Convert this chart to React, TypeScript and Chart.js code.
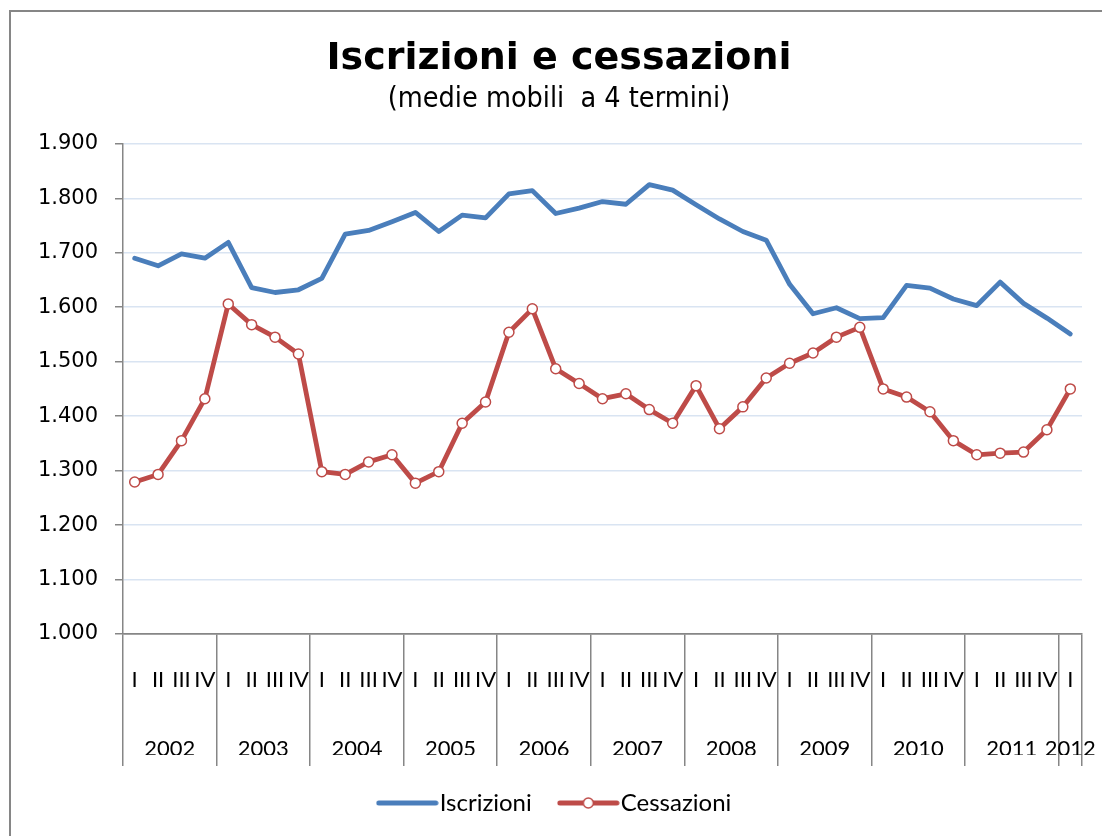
import React, { useEffect, useRef } from 'react';
import { Chart, registerables } from 'chart.js';

Chart.register(...registerables);

// ---- data ----
const years = ['2002', '2003', '2004', '2005', '2006', '2007', '2008', '2009', '2010', '2011', '2012'];
const quartersPerYear = [4, 4, 4, 4, 4, 4, 4, 4, 4, 4, 1];
const quarterNames = ['I', 'II', 'III', 'IV'];

const iscrizioni = [
  1690, 1676, 1698, 1690, 1719, 1636, 1627, 1632, 1653, 1734, 1741, 1757, 1774, 1739, 1769, 1764,
  1808, 1814, 1772, 1782, 1794, 1789, 1825, 1815, 1788, 1762, 1739, 1723, 1642, 1588, 1599, 1579,
  1581, 1640, 1635, 1615, 1603, 1646, 1607, 1580, 1551,
];
const cessazioni = [
  1279, 1293, 1355, 1432, 1606, 1568, 1545, 1514, 1298, 1293, 1316, 1329, 1277, 1298, 1387, 1426,
  1554, 1597, 1487, 1460, 1432, 1441, 1412, 1387, 1456, 1377, 1417, 1470, 1497, 1516, 1545, 1563,
  1450, 1435, 1408, 1355, 1329, 1332, 1334, 1375, 1450,
];

const yMin = 1000;
const yMax = 1900;
const yStep = 100;

const titleText = 'Iscrizioni e cessazioni';
const subtitleText = '(medie mobili  a 4 termini)';
const seriesNames = ['Iscrizioni', 'Cessazioni'];

// ---- derived tables ----
const quarterLabels: string[] = [];
const yearCenters: number[] = [];
quartersPerYear.forEach((n) => {
  const start = quarterLabels.length;
  for (let q = 0; q < n; q++) quarterLabels.push(quarterNames[q]);
  yearCenters.push(start + (n - 1) / 2);
});

const GRAY = '#868686';
const GRID = '#d9e4f2';
const BLUE = '#4a7ebb';
const RED = '#be4b48';
const LABEL_FONT = 'Lato, "Open Sans", sans-serif';

const fmtThousands = (v: number) => {
  const s = String(Math.round(v));
  return s.length > 3 ? s.slice(0, -3) + '.' + s.slice(-3) : s;
};

function makeLegendImg(color: string, marker: boolean) {
  const c = document.createElement('canvas');
  c.width = 63;
  c.height = 14;
  const g = c.getContext('2d')!;
  g.strokeStyle = color;
  g.lineWidth = 5;
  g.lineCap = 'round';
  g.beginPath();
  g.moveTo(3, 7);
  g.lineTo(60, 7);
  g.stroke();
  if (marker) {
    g.fillStyle = '#fff';
    g.lineWidth = 1.5;
    g.beginPath();
    g.arc(31.5, 7, 5, 0, Math.PI * 2);
    g.fill();
    g.stroke();
  }
  return c;
}

const noSidePadding = (s: any) => {
  s.paddingLeft = 0;
  s.paddingRight = 0;
};

export default function App() {
  const ref = useRef<HTMLCanvasElement | null>(null);

  useEffect(() => {
    if (!ref.current) return;
    const imgs = [makeLegendImg(BLUE, false), makeLegendImg(RED, true)];
    const nCats = quarterLabels.length;

    const chart = new Chart(ref.current, {
      type: 'line',
      data: {
        labels: quarterLabels,
        datasets: [
          {
            label: seriesNames[0],
            data: iscrizioni,
            borderColor: BLUE,
            backgroundColor: BLUE,
            borderWidth: 4.8,
            pointRadius: 0,
            pointHoverRadius: 0,
            tension: 0,
            fill: false,
            borderJoinStyle: 'round',
            borderCapStyle: 'round',
            order: 1,
          },
          {
            label: seriesNames[1],
            data: cessazioni,
            borderColor: RED,
            backgroundColor: '#fff',
            borderWidth: 4.8,
            pointRadius: 5,
            pointHoverRadius: 5,
            pointBackgroundColor: '#fff',
            pointBorderColor: RED,
            pointBorderWidth: 1.5,
            tension: 0,
            fill: false,
            borderJoinStyle: 'round',
            order: 0,
          },
        ],
      },
      options: {
        responsive: false,
        animation: false,
        layout: { padding: { left: 36, right: 20, top: 0, bottom: 11 } },
        plugins: {
          tooltip: { enabled: false },
          title: {
            display: true,
            text: titleText,
            color: '#000',
            font: { family: '"DejaVu Sans", sans-serif', size: 38, weight: 'bold', lineHeight: 1.2 },
            padding: { top: 36, bottom: 0 },
          },
          subtitle: {
            display: true,
            text: subtitleText,
            color: '#000',
            font: { family: '"DejaVu Sans Condensed", "DejaVu Sans", sans-serif', size: 28.5, lineHeight: 1.2 },
            padding: { top: 1, bottom: 27 },
          },
          legend: {
            display: true,
            position: 'bottom',
            labels: {
              usePointStyle: true,
              pointStyleWidth: 41,
              padding: 36,
              color: '#000',
              font: { family: LABEL_FONT, size: 24 },
              generateLabels: (ch: any) => {
                const items = Chart.defaults.plugins.legend.labels.generateLabels(ch);
                items.sort((a: any, b: any) => a.datasetIndex - b.datasetIndex);
                items.forEach((it: any) => {
                  it.pointStyle = imgs[it.datasetIndex];
                  it.fontColor = '#000';
                });
                return items;
              },
            },
          },
        },
        scales: {
          x: {
            type: 'category',
            position: 'bottom',
            offset: true,
            weight: 0,
            grid: {
              display: true,
              offset: true,
              drawOnChartArea: false,
              drawTicks: true,
              tickLength: 132,
              lineWidth: 1.5,
              color: (c: any) =>
                c.index === undefined || c.index % 4 === 0 || c.index >= nCats ? GRAY : 'rgba(0,0,0,0)',
            },
            border: { display: true, color: GRAY, width: 1.5 },
            ticks: {
              autoSkip: false,
              maxRotation: 0,
              minRotation: 0,
              padding: -99,
              color: '#000',
              font: { family: LABEL_FONT, size: 22 },
            },
            afterFit: (s: any) => {
              s.height = 77;
              noSidePadding(s);
            },
          },
          x2: {
            type: 'linear',
            position: 'bottom',
            weight: 1,
            min: -0.5,
            max: nCats - 0.5,
            afterBuildTicks: (s: any) => {
              s.ticks = yearCenters.map((v) => ({ value: v }));
            },
            grid: { display: false, drawTicks: false },
            border: { display: false },
            ticks: {
              autoSkip: false,
              maxRotation: 0,
              minRotation: 0,
              padding: 25,
              color: '#000',
              font: { family: LABEL_FONT, size: 22 },
              callback: (_v: any, i: number) => years[i],
            },
            afterFit: (s: any) => {
              s.height = 44;
              noSidePadding(s);
            },
          },
          y: {
            type: 'linear',
            position: 'left',
            min: yMin,
            max: yMax,
            grid: {
              display: true,
              drawTicks: true,
              tickLength: 8,
              lineWidth: 1.5,
              color: (c: any) => (c.tick && c.tick.value === yMin ? GRAY : GRID),
              tickColor: GRAY,
            },
            border: { display: true, color: GRAY, width: 1.5 },
            ticks: {
              stepSize: yStep,
              padding: 17,
              color: '#000',
              font: { family: '"DejaVu Sans", sans-serif', size: 21 },
              callback: (v: any) => fmtThousands(Number(v)),
            },
            afterFit: (s: any) => {
              s.width = 87;
            },
          },
        },
      },
    } as any);

    return () => chart.destroy();
  }, []);

  return (
    <div
      style={{
        position: 'fixed',
        left: 0,
        top: 0,
        width: 1102,
        height: 836,
        overflow: 'hidden',
        background: '#fff',
      }}
    >
      <div
        style={{
          position: 'absolute',
          left: 9,
          top: 10,
          width: 1300,
          height: 1000,
          border: `2px solid ${GRAY}`,
          boxSizing: 'border-box',
        }}
      />
      <canvas
        ref={ref}
        width={1102}
        height={836}
        style={{ position: 'absolute', left: 0, top: 0, width: 1102, height: 836 }}
      />
    </div>
  );
}
